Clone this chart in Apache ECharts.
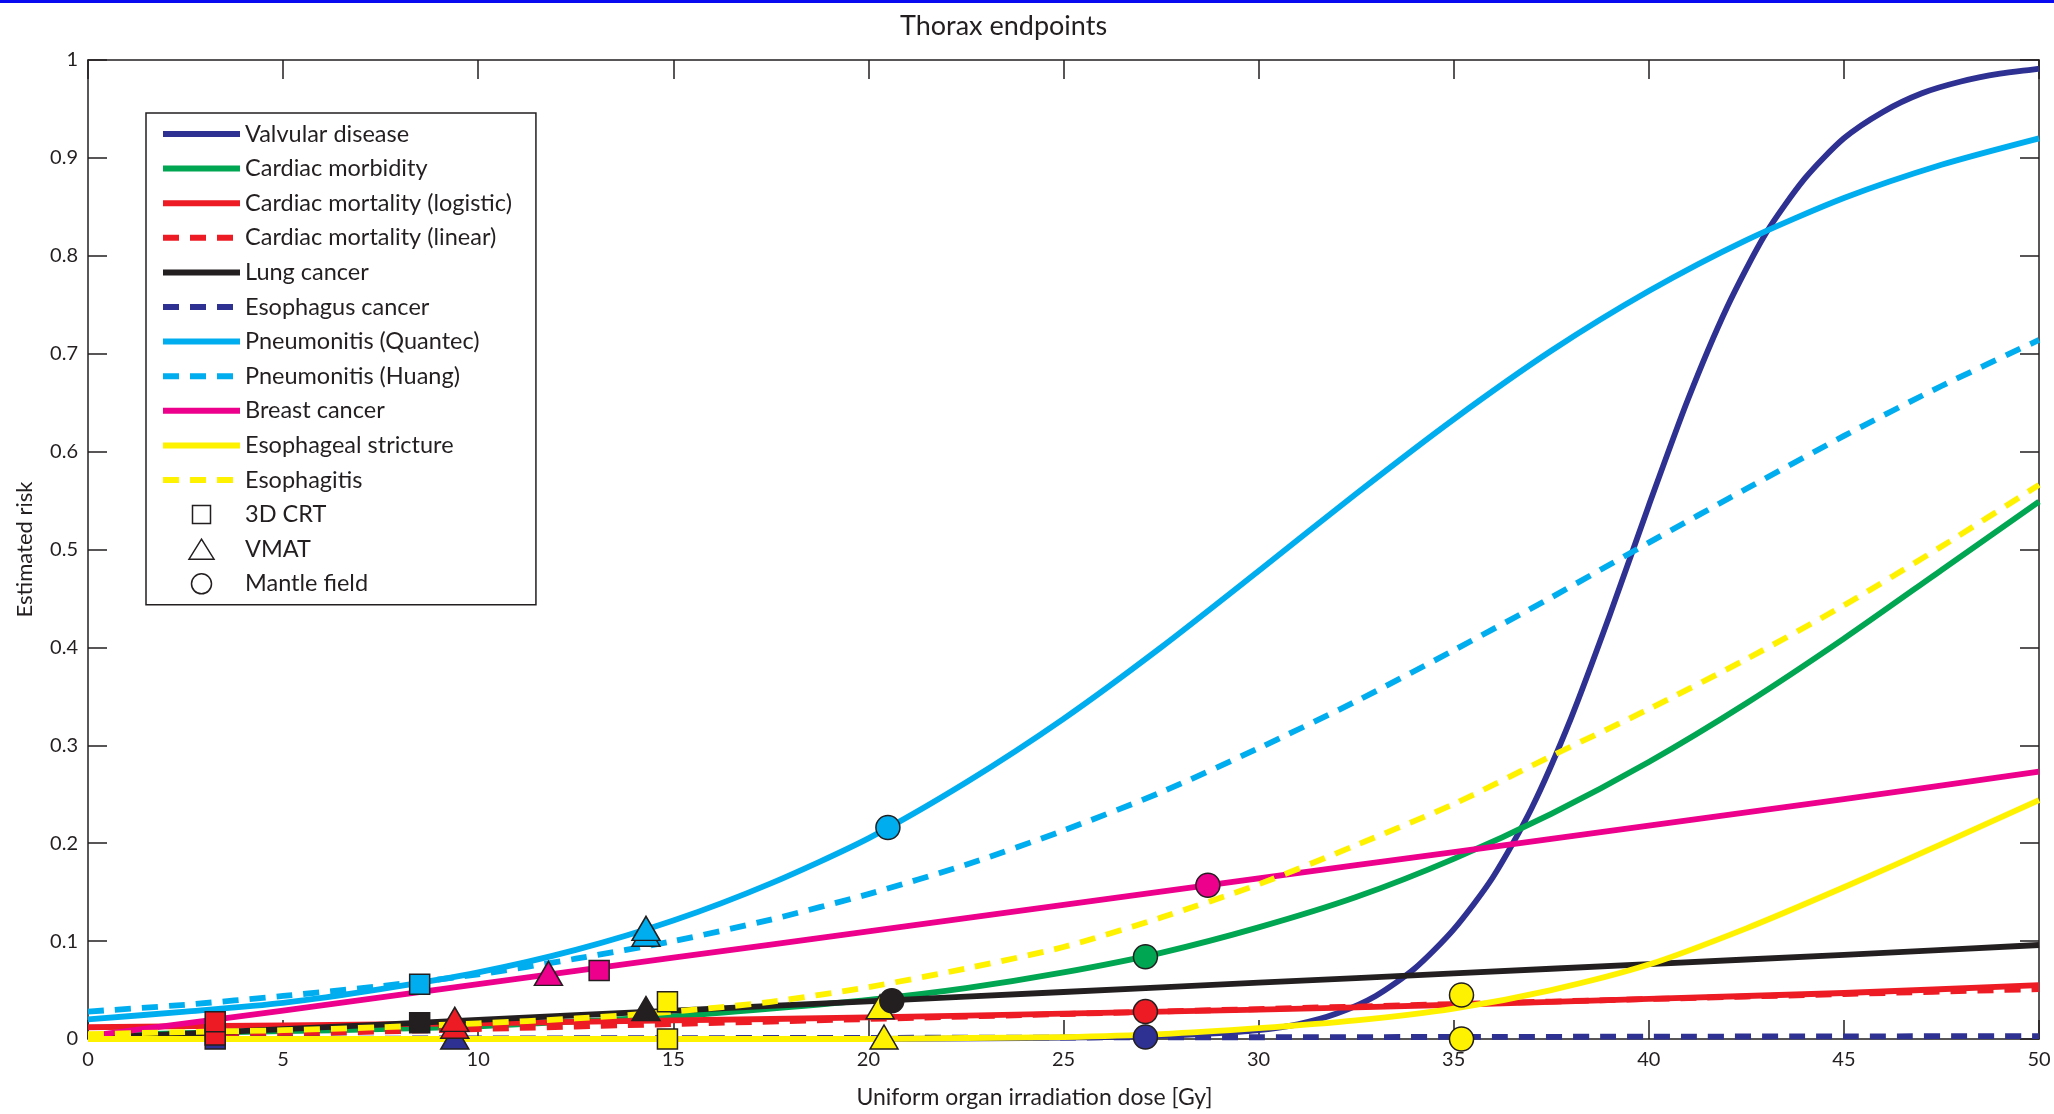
<!DOCTYPE html>
<html>
<head>
<meta charset="utf-8">
<script src="https://cdn.jsdelivr.net/npm/echarts@6/dist/echarts.min.js"></script>
<style>
html,body{margin:0;padding:0;background:#ffffff;}
#chart{width:2054px;height:1114px;}
</style>
</head>
<body>
<div id="chart"></div>
<script>
// ---------- data ----------
const doseFine = [0,2.5,5,7.5,10,12.5,15,17.5,20,22.5,25,27.5,30,32.5,35,37.5,40,42.5,45,47.5,50];
const pneumonitisQuantec = [0.020,0.028,0.037,0.051,0.068,0.091,0.121,0.159,0.205,0.262,0.327,0.400,0.478,0.557,0.633,0.703,0.764,0.816,0.859,0.893,0.920];
const pneumonitisHuang   = [0.028,0.035,0.044,0.054,0.066,0.082,0.100,0.122,0.148,0.178,0.213,0.252,0.297,0.345,0.397,0.451,0.507,0.562,0.616,0.667,0.714];
const cardiacMorbidity   = [0.004,0.006,0.008,0.010,0.013,0.018,0.023,0.031,0.040,0.052,0.068,0.088,0.114,0.145,0.184,0.230,0.283,0.343,0.409,0.479,0.549];
const esophagitis        = [0.005,0.007,0.009,0.012,0.016,0.021,0.028,0.038,0.053,0.072,0.094,0.124,0.158,0.198,0.240,0.289,0.337,0.388,0.443,0.503,0.566];

const doseCoarse = [0,5,10,15,20,25,30,35,40,45,50];
const cardiacMortalityLogistic = [0.012,0.014,0.016,0.019,0.022,0.026,0.030,0.035,0.041,0.047,0.055];
const cardiacMortalityLinear   = [0.000,0.0051,0.0102,0.0153,0.0204,0.0255,0.0306,0.0357,0.0408,0.0459,0.051];
const lungCancer               = [0.001,0.010,0.0195,0.029,0.0385,0.048,0.0575,0.067,0.0765,0.086,0.096];
const esophagusCancer          = [0.000,0.0003,0.0006,0.0009,0.0012,0.0015,0.0018,0.0021,0.0024,0.0027,0.003];
const breastCancer             = [0.003,0.029,0.056,0.083,0.110,0.137,0.164,0.191,0.218,0.245,0.273];

const valvularDose = [0,5,10,15,20,24,26,27,28,29,30,31,32,33,34,35,36,37,38,39,40,41,42,43,44,45,46,47,48,49,50];
const valvularDisease = [0,0,0,0,0,0.001,0.002,0.003,0.004,0.006,0.009,0.015,0.026,0.044,0.072,0.112,0.165,0.236,0.327,0.433,0.545,0.653,0.747,0.823,0.879,0.920,0.947,0.966,0.978,0.986,0.991];

const strictureDose = [0,5,10,15,20,22.5,25,27.5,30,32.5,35,37.5,40,42.5,45,47.5,50];
const esophagealStricture = [0,0,0,0,0,0.001,0.002,0.005,0.011,0.019,0.031,0.050,0.076,0.113,0.155,0.199,0.244];

// plan markers (dose, risk, endpoint)
const crtDose     = [3.26,3.26,3.26,8.5,8.5,13.1,14.85,14.85];
const crtRisk     = [0.000,0.004,0.0175,0.056,0.0165,0.070,0.038,0.000];
const crtEndpoint = ['Valvular disease','Cardiac mortality (linear)','Cardiac mortality (logistic)','Pneumonitis (Quantec)','Lung cancer','Breast cancer','Esophagitis','Esophageal stricture'];

const vmatDose     = [9.4,9.4,9.4,11.8,14.3,14.3,14.3,20.3,20.4];
const vmatRisk     = [0.002,0.013,0.020,0.067,0.031,0.107,0.113,0.033,0.002];
const vmatEndpoint = ['Valvular disease','Cardiac mortality (linear)','Cardiac mortality (logistic)','Breast cancer','Lung cancer','Pneumonitis (Huang)','Pneumonitis (Quantec)','Esophagitis','Esophageal stricture'];

const mantleDose     = [20.5,20.6,27.1,27.1,27.1,28.7,35.2,35.2];
const mantleRisk     = [0.216,0.039,0.002,0.028,0.084,0.157,0.000,0.045];
const mantleEndpoint = ['Pneumonitis (Quantec)','Lung cancer','Valvular disease','Cardiac mortality (logistic)','Cardiac morbidity','Breast cancer','Esophageal stricture','Esophagitis'];

// ---------- styles ----------
const FONT = 'Lato';
const INK = '#231f20';
const colorOf = {
  'Valvular disease': '#2e3192',
  'Cardiac morbidity': '#00a651',
  'Cardiac mortality (logistic)': '#ed1c24',
  'Cardiac mortality (linear)': '#ed1c24',
  'Lung cancer': '#231f20',
  'Esophagus cancer': '#2e3192',
  'Pneumonitis (Quantec)': '#00aeef',
  'Pneumonitis (Huang)': '#00aeef',
  'Breast cancer': '#ec008c',
  'Esophageal stricture': '#fff200',
  'Esophagitis': '#fff200'
};
const DASH = [16, 11];

// legend marker icons drawn inside a 77 x 22 box (so the symbol is not stretched)
const ICON_SQUARE   = 'path://M0 0M77 22M29.5 2L47.5 2L47.5 20L29.5 20Z';
const ICON_TRIANGLE = 'path://M0 0M77 22M38.5 1L51 21L26 21Z';
const ICON_CIRCLE   = 'path://M0 0M77 22M28.5 11A10 10 0 1 0 48.5 11A10 10 0 1 0 28.5 11Z';

function pairs(xs, ys) { return xs.map((x, i) => [x, ys[i]]); }

const curves = [
  ['Valvular disease', valvularDose, valvularDisease, false],
  ['Cardiac morbidity', doseFine, cardiacMorbidity, false],
  ['Cardiac mortality (logistic)', doseCoarse, cardiacMortalityLogistic, false],
  ['Cardiac mortality (linear)', doseCoarse, cardiacMortalityLinear, true],
  ['Lung cancer', doseCoarse, lungCancer, false],
  ['Esophagus cancer', doseCoarse, esophagusCancer, true],
  ['Pneumonitis (Quantec)', doseFine, pneumonitisQuantec, false],
  ['Pneumonitis (Huang)', doseFine, pneumonitisHuang, true],
  ['Breast cancer', doseCoarse, breastCancer, false],
  ['Esophageal stricture', strictureDose, esophagealStricture, false],
  ['Esophagitis', doseFine, esophagitis, true]
];

const lineSeries = curves.map(([name, xs, ys, dashed]) => ({
  name: name,
  type: 'line',
  data: pairs(xs, ys),
  symbol: 'none',
  smooth: 0.25,
  clip: false,
  color: colorOf[name],
  lineStyle: { width: 5.8, color: colorOf[name], type: dashed ? DASH : 'solid', cap: 'butt', join: 'round' },
  emphasis: { disabled: true },
  z: 2
}));

function markerData(xs, ys, eps) {
  return xs.map((x, i) => ({ value: [x, ys[i]], itemStyle: { color: colorOf[eps[i]] } }));
}
function markerSeries(name, symbol, size, xs, ys, eps) {
  return {
    name: name,
    type: 'scatter',
    symbol: symbol,
    symbolSize: size,
    data: markerData(xs, ys, eps),
    clip: false,
    itemStyle: { color: '#ffffff', borderColor: INK, borderWidth: 1.5, opacity: 1 },
    emphasis: { disabled: true },
    z: 5
  };
}

const tickStyle = { color: INK, width: 1.5 };
const labelStyle = { fontFamily: FONT, fontSize: 20, color: INK };

const legendNames = curves.map(c => c[0]);
const legendData = legendNames.map(n => ({ name: n, itemStyle: { opacity: 0 } }))
  .concat([
    { name: '3D CRT', icon: ICON_SQUARE, itemStyle: { color: '#ffffff', borderColor: INK, borderWidth: 1.5 } },
    { name: 'VMAT', icon: ICON_TRIANGLE, itemStyle: { color: '#ffffff', borderColor: INK, borderWidth: 1.5 } },
    { name: 'Mantle field', icon: ICON_CIRCLE, itemStyle: { color: '#ffffff', borderColor: INK, borderWidth: 1.5 } }
  ]);

const option = {
  animation: false,
  backgroundColor: '#ffffff',
  title: {
    text: 'Thorax endpoints',
    left: 895, top: 8,
    textStyle: { fontFamily: FONT, fontSize: 27, fontWeight: 'normal', color: INK }
  },
  graphic: [
    { type: 'rect', left: 0, top: 0, shape: { width: 2054, height: 3 }, style: { fill: '#0a0af0' }, silent: true }
  ],
  legend: {
    orient: 'vertical',
    left: 146, top: 113,
    padding: [9, 24, 9, 14],
    itemWidth: 77, itemHeight: 22, itemGap: 10.6,
    borderColor: INK, borderWidth: 1.5,
    backgroundColor: '#ffffff',
    selectedMode: false,
    textStyle: { fontFamily: FONT, fontSize: 23.5, color: INK, lineHeight: 23.5 },
    lineStyle: { width: 6 },
    itemStyle: { borderWidth: 1.5 },
    data: legendData
  },
  grid: { left: 88, top: 60, width: 1951, height: 979, containLabel: false },
  xAxis: [
    {
      type: 'value', min: 0, max: 50, interval: 5, position: 'bottom',
      name: 'Uniform organ irradiation dose [Gy]', nameLocation: 'middle', nameGap: 47,
      nameTextStyle: { fontFamily: FONT, fontSize: 23, color: INK, padding: [0, 58, 0, 0] },
      axisLine: { show: true, onZero: false, lineStyle: tickStyle },
      axisTick: { show: true, inside: true, length: 19, lineStyle: tickStyle },
      axisLabel: Object.assign({ margin: 11 }, labelStyle),
      splitLine: { show: false }
    },
    {
      type: 'value', min: 0, max: 50, interval: 5, position: 'top',
      axisLine: { show: true, onZero: false, lineStyle: tickStyle },
      axisTick: { show: true, inside: true, length: 19, lineStyle: tickStyle },
      axisLabel: { show: false },
      splitLine: { show: false }
    }
  ],
  yAxis: [
    {
      type: 'value', min: 0, max: 1, interval: 0.1, position: 'left',
      name: 'Estimated risk', nameLocation: 'middle', nameGap: 52,
      nameTextStyle: { fontFamily: FONT, fontSize: 22, color: INK },
      axisLine: { show: true, onZero: false, lineStyle: tickStyle },
      axisTick: { show: true, inside: true, length: 19, lineStyle: tickStyle },
      axisLabel: Object.assign({ margin: 10 }, labelStyle),
      splitLine: { show: false }
    },
    {
      type: 'value', min: 0, max: 1, interval: 0.1, position: 'right',
      axisLine: { show: true, onZero: false, lineStyle: tickStyle },
      axisTick: { show: true, inside: true, length: 19, lineStyle: tickStyle },
      axisLabel: { show: false },
      splitLine: { show: false }
    }
  ],
  series: lineSeries.concat([
    markerSeries('VMAT', 'triangle', [28, 24], vmatDose, vmatRisk, vmatEndpoint),
    markerSeries('3D CRT', 'rect', 20, crtDose, crtRisk, crtEndpoint),
    markerSeries('Mantle field', 'circle', 24, mantleDose, mantleRisk, mantleEndpoint)
  ])
};

const chart = echarts.init(document.getElementById('chart'), null, { renderer: 'canvas', width: 2054, height: 1114 });
chart.setOption(option);
</script>
</body>
</html>
